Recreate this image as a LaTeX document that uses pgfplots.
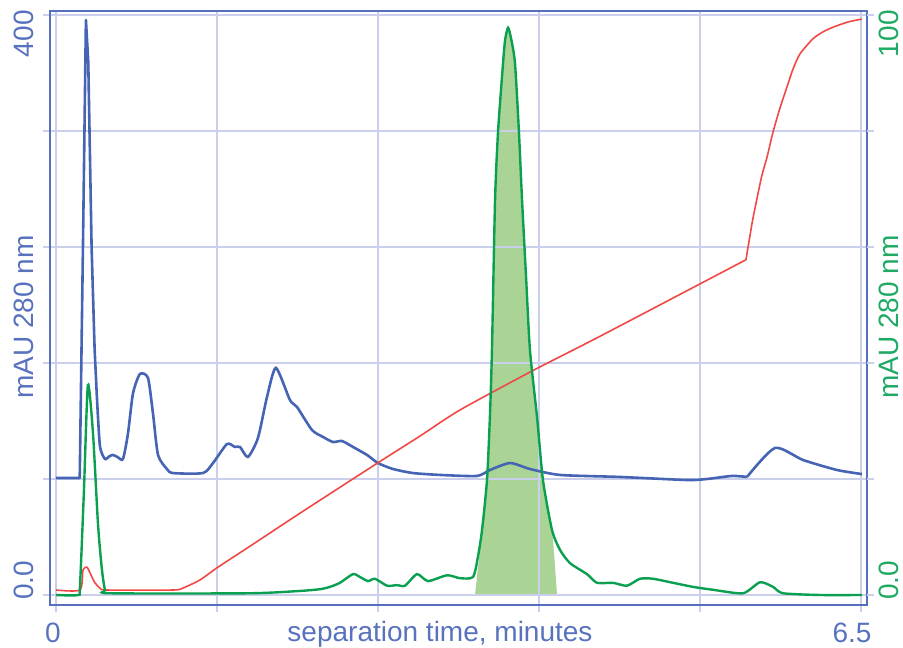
\documentclass[border=0pt]{standalone}
\usepackage{pgfplots}
\pgfplotsset{compat=1.18}
\usepackage{pgfplotstable}
\usepackage{fontspec}
\setmainfont{Liberation Sans}
\usetikzlibrary{calc}

\definecolor{framecol}{RGB}{86,112,190}
\definecolor{bluetext}{RGB}{88,114,190}
\definecolor{blueline}{RGB}{70,100,180}
\definecolor{greenline}{RGB}{10,160,80}
\definecolor{greentext}{RGB}{30,170,100}
\definecolor{greenfill}{RGB}{170,212,150}
\definecolor{redline}{RGB}{240,72,68}
\definecolor{gridcol}{RGB}{202,208,236}

% blue trace, part 1: baseline and sharp first peak
\pgfplotstableread{
t v
0.000 80.7
0.153 80.7
0.192 80.7
0.218 240
0.242 396.6
0.261 367.6
0.288 239.3
0.312 170.0
0.329 139.3
}\blueA

% blue trace, part 2
\pgfplotstableread{
t v
0.329 139.3
0.355 102.8
0.396 93.8
0.428 95.5
0.460 96.6
0.500 95.0
0.541 93.8
0.581 111.0
0.622 139.0
0.678 152.4
0.743 149.7
0.783 125.5
0.824 96.6
0.896 86.9
0.945 84.1
1.187 84.1
1.268 91.0
1.381 104.1
1.445 102.1
1.486 102.1
1.550 95.2
1.631 108.3
1.704 136.6
1.776 156.6
1.889 134.5
1.946 129.7
2.067 113.8
2.156 109.0
2.237 105.5
2.309 106.2
2.398 102.1
2.511 96.6
2.600 91.0
2.721 86.9
2.883 84.1
3.101 82.8
3.399 82.1
3.504 86.2
3.666 91.0
3.827 86.9
4.069 82.8
4.554 81.4
5.095 79.3
5.256 80.0
5.458 82.1
5.579 81.4
}\blueB

% blue trace, part 3: last peak
\pgfplotstableread{
t v
5.579 81.4
5.805 101.4
6.032 93.1
6.306 86.2
6.508 83.4
}\blueC

\pgfplotstableread{
t v
0.000 0.0
0.178 0.0
0.194 1.5
0.226 18.0
0.258 36.2
0.299 27.9
0.339 12.4
0.369 4.8
0.396 0.9
0.436 0.3
1.566 0.3
1.970 0.7
2.132 1.0
2.212 1.4
2.293 2.1
2.398 3.6
2.455 3.1
2.519 2.4
2.576 2.8
2.673 1.6
2.753 1.7
2.818 1.6
2.915 3.6
3.004 2.4
3.157 3.4
3.262 2.9
3.367 3.1
3.407 6.6
3.440 11.2
3.480 19.8
3.504 31.0
3.520 42.2
3.545 68.1
3.569 79.8
3.601 89.3
3.625 95.5
3.650 97.8
3.674 96.0
3.706 91.7
3.738 79.8
3.763 68.1
3.795 55.0
3.827 42.2
3.884 30.7
3.932 19.8
4.005 11.2
4.069 7.8
4.150 5.5
4.287 3.6
4.368 2.1
4.497 2.1
4.610 1.6
4.715 2.8
4.820 2.8
4.982 2.1
5.143 1.4
5.305 0.9
5.547 0.3
5.684 2.2
5.789 1.4
5.870 0.3
6.169 0.0
6.508 0.0
}\greendata

\pgfplotstableread{
t v
3.383 0
3.440 11.2
3.480 19.8
3.504 31.0
3.520 42.2
3.545 68.1
3.569 79.8
3.601 89.3
3.625 95.5
3.650 97.8
3.674 96.0
3.706 91.7
3.738 79.8
3.763 68.1
3.795 55.0
3.827 42.2
3.884 30.7
3.932 19.8
4.005 11.2
4.045 0
}\filldata

% red trace, part 1 (up to the step in the gradient)
\pgfplotstableread{
t v
0.000 0.86
0.194 0.86
0.218 4.3
0.250 4.8
0.275 3.8
0.315 2.1
0.355 1.2
0.412 0.86
0.945 0.86
1.025 1.2
1.163 2.6
1.308 4.8
1.566 8.4
1.970 14.1
2.600 22.8
2.939 27.4
3.262 31.9
3.851 38.7
4.392 44.6
5.571 57.8
}\redA

% red trace, part 2
\pgfplotstableread{
t v
5.571 57.8
5.620 64.1
5.660 68.4
5.700 72.4
5.741 75.5
5.789 79.8
5.846 84.0
5.902 87.6
5.951 90.7
6.007 93.3
6.112 95.9
6.193 97.1
6.274 97.9
6.395 98.8
6.508 99.3
}\redB

\begin{document}
\begin{tikzpicture}[font=\fontsize{14}{16}\selectfont]
% fill layer (right scale)
\begin{axis}[
  scale only axis, width=408.5pt, height=297pt,
  xmin=-0.048, xmax=6.548, ymin=-1.725, ymax=100.69,
  hide axis]
  \addplot[draw=none, fill=greenfill, smooth, tension=0.4] table[x=t,y=v] {\filldata} -- cycle;
\end{axis}
% main axis (left scale)
\begin{axis}[
  name=main,
  scale only axis, width=408.5pt, height=297pt,
  xmin=-0.048, xmax=6.548, ymin=-6.9, ymax=402.76,
  xtick={0,1.3,2.6,3.9,5.2,6.5},
  ytick={0,80,160,240,320,400},
  xticklabels={}, yticklabels={},
  grid=major,
  grid style={gridcol, line width=0.7pt},
  tick style={gridcol, line width=0.7pt},
  tick align=outside, major tick length=3.5pt,
  xtick pos=bottom, ytick pos=left,
  axis line style={framecol, line width=1.3pt}]
  \addplot[blueline, line width=1.3pt, line join=round] table[x=t,y=v] {\blueA};
  \addplot[blueline, line width=1.3pt, smooth, tension=0.4] table[x=t,y=v] {\blueB};
  \addplot[blueline, line width=1.3pt, smooth, tension=0.4] table[x=t,y=v] {\blueC};
\end{axis}
% right axis (right scale)
\begin{axis}[
  scale only axis, width=408.5pt, height=297pt,
  xmin=-0.048, xmax=6.548, ymin=-1.725, ymax=100.69,
  hide x axis,
  axis y line*=right,
  y axis line style={draw=none},
  ytick={0,20,40,60,80,100},
  yticklabels={},
  tick style={gridcol, line width=0.7pt},
  tick align=outside, major tick length=3.5pt]
  \addplot[redline, line width=0.8pt, smooth, tension=0.4] table[x=t,y=v] {\redA};
  \addplot[redline, line width=0.8pt, smooth, tension=0.4] table[x=t,y=v] {\redB};
  \addplot[greenline, line width=1.2pt, smooth, tension=0.4] table[x=t,y=v] {\greendata};
\end{axis}

% tick labels and axis labels
\node[rotate=90, anchor=base east, inner sep=0pt, text=bluetext] at ($(main.north west)+(-8.5pt,0.5pt)$) {400};
\node[rotate=90, anchor=base west, inner sep=0pt, text=bluetext] at ($(main.south west)+(-8.5pt,2.5pt)$) {0.0};
\node[rotate=90, anchor=base, inner sep=0pt, text=bluetext] at ($(main.west)+(-8.5pt,-4.5pt)$) {mAU 280 nm};
\node[rotate=90, anchor=base east, inner sep=0pt, text=greentext] at ($(main.north east)+(15.5pt,0.5pt)$) {100};
\node[rotate=90, anchor=base west, inner sep=0pt, text=greentext] at ($(main.south east)+(15.5pt,2.5pt)$) {0.0};
\node[rotate=90, anchor=base, inner sep=0pt, text=greentext] at ($(main.east)+(15.5pt,-4.5pt)$) {mAU 280 nm};
\node[anchor=base, inner sep=0pt, text=bluetext] at ($(main.south west)+(1.5pt,-18.5pt)$) {0};
\node[anchor=base, inner sep=0pt, text=bluetext] at ($(main.south west)+(401pt,-18.5pt)$) {6.5};
\node[anchor=base, inner sep=0pt, text=bluetext] at ($(main.south west)+(195pt,-18pt)$) {separation time, minutes};

\pgfresetboundingbox
\path[use as bounding box] ($(main.south west)+(-25pt,-21pt)$) rectangle ($(main.north east)+(18pt,5.5pt)$);
\end{tikzpicture}
\end{document}
